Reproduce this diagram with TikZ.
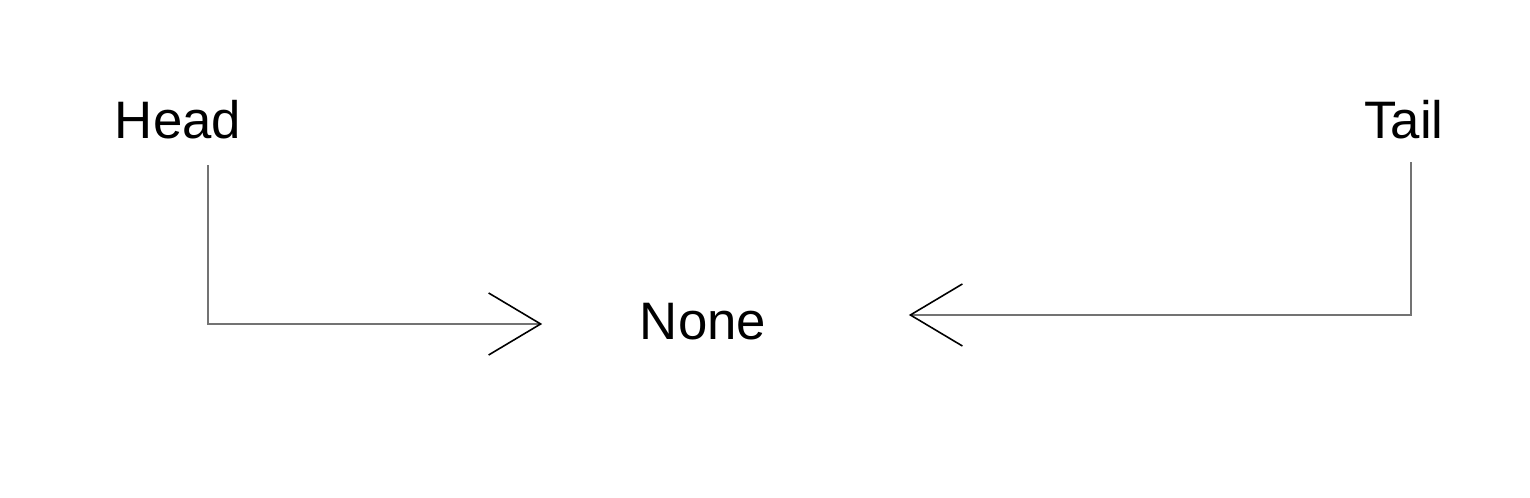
\documentclass[tikz,border=0pt]{standalone}
\usepackage{fontspec}
\setmainfont{Liberation Sans}
\usetikzlibrary{arrows.meta,positioning}

\begin{document}
\begin{tikzpicture}[
    x=0.01cm, y=-0.01cm,
    label/.style={inner sep=0pt, font=\fontsize{15}{18}\selectfont},
    link/.style={draw=black!55, line width=0.45pt,
      -{Straight Barb[length=5.2mm, width=6.2mm, color=black, line width=0.45pt]}}
]
\useasboundingbox (0,0) rectangle (1530,498);

% Pointer labels and the empty list.
\node[label] (head) at (178,120) {Head};
\node[label] (tail) at (1404,120) {Tail};
\node[label] (none) at (703,322) {None};

% Corners of the two pointers.
\coordinate (headturn) at (208,324);
\coordinate (tailturn) at (1411,315);

% Both pointers end at None.
\draw[link, shorten <=0.25cm] (head.south -| headturn) -- (headturn) -- ([xshift=-0.97cm] none.west |- headturn);
\draw[link, shorten <=0.22cm] (tail.south -| tailturn) -- (tailturn) -- ([xshift=1.42cm] none.east |- tailturn);

\end{tikzpicture}
\end{document}
